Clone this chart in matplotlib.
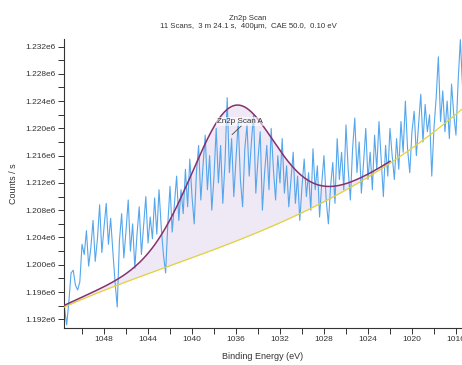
import numpy as np
import matplotlib
matplotlib.use("Agg")
import matplotlib.pyplot as plt
from matplotlib.ticker import MultipleLocator, FuncFormatter
from numpy.polynomial import Polynomial

plt.rcParams['font.family'] = ['Liberation Sans', 'DejaVu Sans']

# Binding energy grid of the Zn2p region (eV), 0.2 eV steps from high to low BE
energy_start = 1051.6
energy_step = 0.2

# Measured intensity (counts / s)
counts = [
    1193800, 1191200, 1194500, 1198800, 1199200, 1197000, 1196300, 1197500, 1203000, 1201500,
    1205000, 1199800, 1202500, 1206500, 1200500, 1203800, 1208800, 1201800, 1205500, 1209000,
    1203000, 1206800, 1202000, 1197500, 1193800, 1203500, 1207500, 1201000, 1205000, 1209500,
    1202000, 1206000, 1199500, 1204500, 1208500, 1201500, 1205800, 1210000, 1203200, 1207000,
    1203800, 1209800, 1204500, 1211000, 1205500, 1201500, 1198800, 1206000, 1211500, 1204800,
    1209000, 1213000, 1206500, 1211000, 1207500, 1214000, 1208500, 1215500, 1210000, 1206000,
    1213500, 1217500, 1209500, 1214500, 1219000, 1211000, 1216000, 1208000, 1213000, 1220000,
    1212000, 1217500, 1209000, 1215000, 1224500, 1213500, 1218500, 1210000, 1215500, 1221000,
    1212500, 1208500, 1217000, 1220500, 1213000, 1218000, 1222000, 1210500, 1215500, 1219500,
    1208000, 1213500, 1217500, 1211000, 1220000, 1214000, 1209500, 1216000, 1212000, 1218500,
    1210500, 1214500, 1208500, 1212500, 1216500, 1209000, 1213000, 1206500, 1211500, 1215500,
    1210000, 1213500, 1208000, 1217000, 1211000, 1214500, 1207000, 1212000, 1216000, 1209500,
    1206000, 1211500, 1215000, 1209000, 1218500, 1212500, 1216500, 1211000, 1220500, 1214000,
    1209500, 1217000, 1221500, 1213500, 1218000, 1210500, 1215000, 1220000, 1212500, 1216500,
    1211000, 1219000, 1214000, 1221000, 1215500, 1210000, 1217500, 1213000, 1220000, 1216000,
    1212500, 1218500, 1214000, 1221000, 1216500, 1224000, 1217000, 1213500, 1219500, 1222500,
    1216000, 1220500, 1225000, 1218000, 1223500, 1219500, 1222000, 1213000, 1220000, 1224500,
    1230500, 1221000, 1225500, 1219500, 1224000, 1218500, 1226500, 1222000, 1219000, 1227000,
    1233000, 1226000,
]

# Background anchor values (eV, counts / s)
bg_energy = [1051.64, 1045.0, 1038.36, 1031.55, 1027.64, 1022.6, 1018.1, 1015.45]
bg_counts = [1193800, 1198030, 1202140, 1206530, 1209020, 1215070, 1218680, 1223070]

# Fitted peak component "Zn2p Scan A" (GL line shape)
peak_center = 1036.3
peak_height = 20000
peak_fwhm = 9.0
peak_lorentz = 0.15
envelope_end = 1022.0

title_lines = ["Zn2p Scan", "11 Scans,  3 m 24.1 s,  400\u00b5m,  CAE 50.0,  0.10 eV"]
peak_name = "Zn2p Scan A"

energy = energy_start - energy_step * np.arange(len(counts))
counts = np.asarray(counts, dtype=float)

bg_model = Polynomial.fit(bg_energy, bg_counts, 4)
bg_grid = np.linspace(bg_energy[0], bg_energy[-1], 400)
bg_curve = bg_model(bg_grid)

env_grid = np.linspace(bg_energy[0], envelope_end, 400)
d = (env_grid - peak_center) / peak_fwhm
gauss = np.exp(-4 * np.log(2) * d ** 2)
lorentz = 1.0 / (1.0 + 4 * d ** 2)
peak = peak_height * ((1 - peak_lorentz) * gauss + peak_lorentz * lorentz)
env_bg = bg_model(env_grid)
envelope = env_bg + peak

fig = plt.figure(figsize=(4.62, 3.65), dpi=100)
ax = fig.add_axes([64 / 462, 1 - 328 / 365, 1 - 64 / 462, (328 - 39) / 365])

ax.fill_between(env_grid, env_bg, envelope, color='#efe8f5', lw=0, zorder=1)
ax.plot(energy, counts, color='#55a6ec', lw=0.8, zorder=2)
ax.plot(bg_grid, bg_curve, color='#e2d33c', lw=0.9, zorder=3)
ax.plot(env_grid, envelope, color='#86306f', lw=1.1, zorder=4)

ax.annotate(peak_name, xy=(1036.36, 1219080), xytext=(1035.64, 1221000),
            ha='center', va='center', fontsize=5.8, color='#333333',
            bbox=dict(boxstyle='square,pad=0.1', fc='white', ec='none', alpha=0.55),
            arrowprops=dict(arrowstyle='-', color='#444444', lw=0.6,
                            relpos=(0.55, 0.0), shrinkA=0, shrinkB=0),
            zorder=5)

ax.set_xlim(1051.64, 1015.45)
ax.set_ylim(1190730, 1233100)

ax.xaxis.set_major_locator(MultipleLocator(4))
ax.xaxis.set_minor_locator(MultipleLocator(2))
ax.yaxis.set_major_locator(MultipleLocator(4000))
ax.yaxis.set_minor_locator(MultipleLocator(2000))
ax.yaxis.set_major_formatter(FuncFormatter(lambda v, p: f"{v / 1e6:.3f}e6"))
ax.xaxis.set_major_formatter(FuncFormatter(lambda v, p: f"{v:.0f}"))

for side in ('top', 'right'):
    ax.spines[side].set_visible(False)
for side in ('left', 'bottom'):
    ax.spines[side].set_color('#333333')
    ax.spines[side].set_linewidth(0.8)

ax.tick_params(which='both', direction='out', length=4, width=0.7, color='#333333',
               labelsize=6, labelcolor='#333333', pad=2)

ax.set_xlabel("Binding Energy (eV)", fontsize=6.5, color='#333333', labelpad=6)
ax.set_ylabel("Counts / s", fontsize=6.5, color='#333333', labelpad=5)

fig.text(248 / 462, 1 - 18.5 / 365, title_lines[0], ha='center', va='center',
         fontsize=5.6, color='#333333')
fig.text(248 / 462, 1 - 26 / 365, title_lines[1], ha='center', va='center',
         fontsize=5.6, color='#333333')

fig.savefig("out.png", dpi=100)
